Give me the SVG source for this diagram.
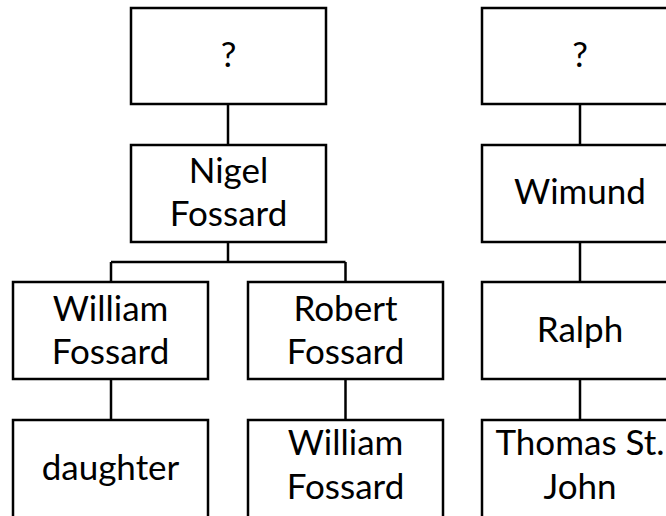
<svg xmlns="http://www.w3.org/2000/svg" width="666" height="516" viewBox="0 0 666 516">
<style>
.box{fill:#fff;stroke:#000;stroke-width:2.5}
.lbl{font-family:Lato,"Liberation Sans",sans-serif;font-size:35px;fill:#000;text-anchor:middle}
.conn{fill:none;stroke:#000;stroke-width:2.5}
</style>
<rect width="666" height="516" fill="#fff"/>
<g id="connectors">
<path class="conn" d="M228,104V145"/>
<path class="conn" d="M228,242V262M111,262H345.5M111,262V282M345.5,262V282"/>
<path class="conn" d="M111,379V420"/>
<path class="conn" d="M345.5,379V420"/>
<path class="conn" d="M580,104V145"/>
<path class="conn" d="M580,242V282"/>
<path class="conn" d="M580,379V420"/>
</g>
<g id="n-unknown1"><rect class="box" x="131" y="8" width="195" height="96"/><text class="lbl" x="228.5" y="67">?</text></g>
<g id="n-nigel"><rect class="box" x="131" y="145" width="195" height="97"/><text class="lbl" x="228.5" y="183">Nigel</text><text class="lbl" x="228.5" y="226">Fossard</text></g>
<g id="n-william1"><rect class="box" x="13" y="282" width="195" height="97"/><text class="lbl" x="110.5" y="321">William</text><text class="lbl" x="110.5" y="364">Fossard</text></g>
<g id="n-robert"><rect class="box" x="248" y="282" width="195" height="97"/><text class="lbl" x="345.5" y="321">Robert</text><text class="lbl" x="345.5" y="364">Fossard</text></g>
<g id="n-daughter"><rect class="box" x="13" y="420" width="195" height="110"/><text class="lbl" x="110.5" y="480">daughter</text></g>
<g id="n-william2"><rect class="box" x="248" y="420" width="195" height="110"/><text class="lbl" x="345.5" y="455">William</text><text class="lbl" x="345.5" y="499">Fossard</text></g>
<g id="n-unknown2"><rect class="box" x="482" y="8" width="195" height="96"/><text class="lbl" x="580" y="67">?</text></g>
<g id="n-wimund"><rect class="box" x="482" y="145" width="195" height="97"/><text class="lbl" x="580" y="204">Wimund</text></g>
<g id="n-ralph"><rect class="box" x="482" y="282" width="195" height="97"/><text class="lbl" x="580" y="342">Ralph</text></g>
<g id="n-thomas"><rect class="box" x="482" y="420" width="195" height="110"/><text class="lbl" x="580" y="455">Thomas St.</text><text class="lbl" x="580" y="499">John</text></g>
</svg>
